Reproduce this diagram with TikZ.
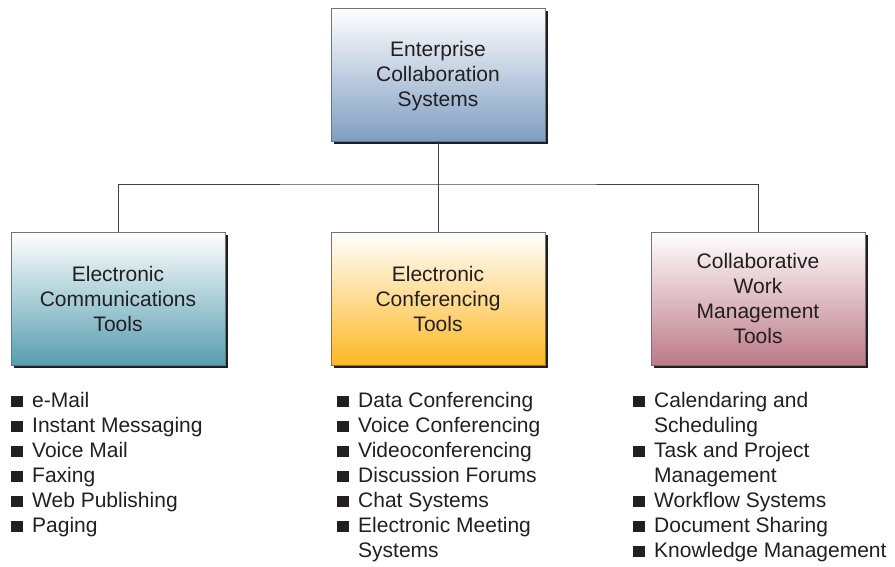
\documentclass[tikz,border=0pt]{standalone}
\usepackage{fontspec}
\setmainfont{Liberation Sans}
\usetikzlibrary{shadows}
\definecolor{entBlue}{RGB}{128,158,194}
\definecolor{commTeal}{RGB}{86,158,176}
\definecolor{confGold}{RGB}{253,184,36}
\definecolor{workRose}{RGB}{188,122,136}
\definecolor{inkGray}{RGB}{35,31,32}
\newcommand{\bul}{\rule{11.5pt}{11.5pt}\hspace{9.5pt}}
\newcommand{\ind}{\hspace*{21pt}}

\begin{document}
\begin{tikzpicture}[
            x=1pt, y=-1pt,
            box/.style={rectangle, draw=black!55, line width=0.6pt, minimum width=214pt, minimum height=133pt, inner sep=0pt, align=center, text=inkGray, font=\fontsize{21}{25}\selectfont, drop shadow={shadow xshift=3pt, shadow yshift=-3pt, fill=black!88, opacity=1}},
            toollist/.style={anchor=north west, align=left, inner sep=0pt, text=inkGray, font=\fontsize{21}{25}\selectfont},
            link/.style={draw=black!75, line width=1pt}
        ]
            \useasboundingbox (0,0) rectangle (895,566);

            % boxes
            \node[box, top color=white, bottom color=entBlue] (ecs) at (438,74.5) {\\[-6pt]Enterprise\\Collaboration\\Systems};
            \node[box, top color=white, bottom color=commTeal] (ect) at (118,298.5) {Electronic\\Communications\\Tools};
            \node[box, top color=white, bottom color=confGold] (ecf) at (438,298.5) {Electronic\\Conferencing\\Tools};
            \node[box, top color=white, bottom color=workRose] (cwm) at (758,298.5) {Collaborative\\Work\\Management\\Tools};

            % connectors
            \coordinate (bus) at (438,184);
            \draw[link] (ecs.south) -- (ecf.north);
            \draw[link] (ect.north) |- (bus) -| (cwm.north);

            % tool lists
            \node[toollist] (ectlist) at (11,392) {\bul e-Mail\\\bul Instant Messaging\\\bul Voice Mail\\\bul Faxing\\\bul Web Publishing\\\bul Paging};
            \node[toollist] (ecflist) at (337,392) {\bul Data Conferencing\\\bul Voice Conferencing\\\bul Videoconferencing\\\bul Discussion Forums\\\bul Chat Systems\\\bul Electronic Meeting\\\ind Systems};
            \node[toollist] (cwmlist) at (633,392) {\bul Calendaring and\\\ind Scheduling\\\bul Task and Project\\\ind Management\\\bul Workflow Systems\\\bul Document Sharing\\\bul Knowledge Management};
        \end{tikzpicture}
\end{document}
